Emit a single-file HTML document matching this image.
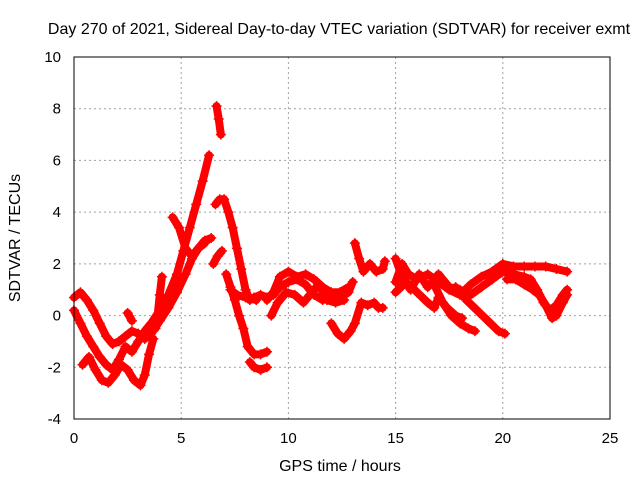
<!DOCTYPE html>
<html><head><meta charset="utf-8"><style>
body{margin:0;background:#fff}
svg{display:block;font-family:"Liberation Sans",sans-serif;font-size:16px}
</style></head><body>
<svg id="chart" width="640" height="480">
<rect width="640" height="480" fill="#fff"/>
<text x="339" y="34" text-anchor="middle">Day 270 of 2021, Sidereal Day-to-day VTEC variation (SDTVAR) for receiver exmt</text>
<text x="340" y="471" text-anchor="middle">GPS time / hours</text>
<text transform="translate(20,238) rotate(-90)" text-anchor="middle">SDTVAR / TECUs</text>
<g id="grid"></g>
<g id="ticks" style="font-size:15px"></g>
<g id="series"></g>
<rect x="74" y="57" width="536" height="362" fill="none" stroke="#000" stroke-width="1"/>
</svg>
<script>
const xTicks=[0,5,10,15,20,25];
const yTicks=[-4,-2,0,2,4,6,8,10];
const track1=[[0,0.7],[0.3,0.9],[0.6,0.6],[0.9,0.2],[1.2,-0.3],[1.5,-0.8],[1.8,-1.1],[2.1,-1.0],[2.4,-0.8],[2.7,-0.6],[3.0,-0.7],[3.3,-0.9],[3.6,-0.7],[4.0,-0.2],[4.4,0.3],[4.8,0.9],[5.2,1.6],[5.5,2.2],[5.8,2.6],[6.1,2.9],[6.4,3.0]];
const track2=[[0,0.2],[0.3,-0.3],[0.6,-0.8],[0.9,-1.2],[1.2,-1.6],[1.5,-1.9],[1.8,-2.1],[2.1,-1.7],[2.4,-1.2],[2.7,-1.4],[3.0,-1.0],[3.3,-0.6],[3.6,-0.3],[4.0,0.2],[4.4,0.8],[4.8,1.6],[5.1,2.5],[5.4,3.4],[5.7,4.3],[6.0,5.2],[6.3,6.2]];
const track3=[[0.4,-1.9],[0.7,-1.6],[1.0,-2.1],[1.3,-2.5],[1.6,-2.6],[1.9,-2.3],[2.2,-1.9],[2.5,-2.1],[2.8,-2.5],[3.1,-2.7],[3.3,-2.3],[3.5,-1.5],[3.7,-0.9]];
const track4=[[3.8,-0.5],[3.9,0.0],[4.0,0.8],[4.1,1.5]];
const track5=[[2.5,0.1],[2.7,-0.2]];
const track6=[[4.6,3.8],[4.9,3.4],[5.2,2.6],[5.5,2.3],[5.8,2.6],[6.1,2.8]];
const track7=[[6.65,8.1],[6.75,7.6],[6.85,7.0]];
const track8=[[6.6,4.3],[6.8,4.5],[7.0,4.5],[7.2,4.0],[7.4,3.4],[7.6,2.6],[7.8,1.8],[8.0,1.0],[8.2,0.6],[8.4,0.7],[8.7,0.8],[9.0,0.7],[9.3,0.8],[9.6,1.1],[10.0,1.3],[10.4,1.4],[10.8,1.2],[11.2,0.8],[11.6,0.6],[12.0,0.7],[12.4,0.7],[12.8,0.9],[13.0,1.3]];
const track9=[[6.5,2.0],[6.7,2.3],[6.9,2.5]];
const track10=[[7.1,1.6],[7.3,1.1],[7.5,0.6],[7.7,0.0],[7.9,-0.5],[8.1,-1.2],[8.4,-1.5],[8.7,-1.5],[9.0,-1.4]];
const track11=[[8.2,-1.8],[8.4,-2.0],[8.7,-2.1],[9.0,-2.0]];
const track12=[[7.3,1.0],[7.6,0.8],[8.0,0.7],[8.5,0.6]];
const track13=[[9.0,0.6],[9.3,0.9],[9.6,1.5],[10.0,1.7],[10.4,1.5],[10.8,1.6],[11.2,1.4],[11.6,1.1],[12.0,0.9],[12.4,0.9],[12.8,1.1]];
const track14=[[9.2,0.0],[9.5,0.5],[9.9,0.9],[10.3,0.8],[10.7,0.5],[11.0,0.8],[11.4,1.2],[11.8,0.6],[12.2,0.5],[12.6,0.6]];
const track15=[[12.0,-0.3],[12.3,-0.7],[12.6,-0.9],[12.9,-0.6],[13.1,-0.3],[13.4,0.5],[13.7,0.4],[14.0,0.5],[14.2,0.3],[14.4,0.3]];
const track16=[[13.1,2.8],[13.3,2.2],[13.5,1.7],[13.8,2.0],[14.1,1.7],[14.4,1.8],[14.5,2.1]];
const track17=[[15.0,1.3],[15.3,2.0],[15.6,1.6],[16.0,1.4],[16.5,1.6],[17.0,1.3],[17.5,1.0],[18.0,0.8],[18.5,1.2],[19.0,1.5],[19.5,1.7],[20.0,2.0],[20.5,1.9],[21.0,1.9],[21.5,1.9],[22.0,1.9],[22.5,1.8],[23.0,1.7]];
const track18=[[15.0,2.2],[15.3,1.5],[15.7,1.0],[16.1,1.6],[16.5,1.1],[17.0,1.6],[17.5,1.1],[18.0,1.0],[18.5,0.8],[19.0,1.1],[19.5,1.4],[20.0,1.7],[20.5,1.6],[21.0,1.5],[21.3,1.4],[21.6,1.0],[21.9,0.5],[22.2,0.2],[22.5,0.4],[22.8,0.8],[23.0,1.0]];
const track19=[[15.0,0.9],[15.5,1.3],[16.0,0.9],[16.5,0.5],[16.8,0.3],[17.0,0.7],[17.4,0.3],[17.8,0.0],[18.1,-0.1]];
const track20=[[16.8,1.2],[17.2,0.5],[17.6,0.0],[18.0,-0.3],[18.4,-0.5],[18.7,-0.6]];
const track21=[[17.8,1.1],[18.3,0.6],[18.8,0.2],[19.3,-0.2],[19.8,-0.6],[20.1,-0.7]];
const track22=[[20.2,1.4],[20.6,1.4],[21.0,1.2],[21.4,1.0],[21.7,0.8],[22.0,0.4],[22.3,-0.1],[22.5,0.0],[22.8,0.5],[23.0,0.8]];
const tracks=[track1,track2,track3,track4,track5,track6,track7,track8,track9,track10,track11,track12,track13,track14,track15,track16,track17,track18,track19,track20,track21,track22];

const X=v=>74+v*(536/25);
const Y=v=>57+(10-v)*(362/14);
const NS='http://www.w3.org/2000/svg';
function mk(tag,attrs,parent){const e=document.createElementNS(NS,tag);for(const k in attrs)e.setAttribute(k,attrs[k]);parent.appendChild(e);return e;}
const grid=document.getElementById('grid'),ticks=document.getElementById('ticks'),ser=document.getElementById('series');
xTicks.forEach(t=>{
  if(t>0&&t<25){const l=mk('line',{x1:X(t),x2:X(t),y1:57,y2:419,stroke:'#a0a0a0','stroke-dasharray':'2,3'},grid);
  
  }
  const tk=mk('text',{x:X(t),y:443,'text-anchor':'middle'},ticks);tk.textContent=t;
  
  
});
yTicks.forEach(t=>{
  if(t>-4&&t<10){const l=mk('line',{x1:74,x2:610,y1:Y(t),y2:Y(t),stroke:'#a0a0a0','stroke-dasharray':'2,3'},grid);
  
  }
  const tk=mk('text',{x:61,y:Y(t)+5,'text-anchor':'end'},ticks);tk.textContent=t;
  
  
});
tracks.forEach((tr,i)=>{
  const p=mk('polyline',{points:tr.map(d=>X(d[0])+','+Y(d[1])).join(' '),fill:'none',stroke:'#f00','stroke-width':8,'stroke-linejoin':'round','stroke-linecap':'round'},ser);
  
  
  tr.forEach(d=>{
    const m=mk('path',{d:`M${X(d[0])-5},${Y(d[1])}h10M${X(d[0])},${Y(d[1])-5}v10`,stroke:'#f00','stroke-width':1.5},ser);
    
    
  });
});
</script>
</body></html>
